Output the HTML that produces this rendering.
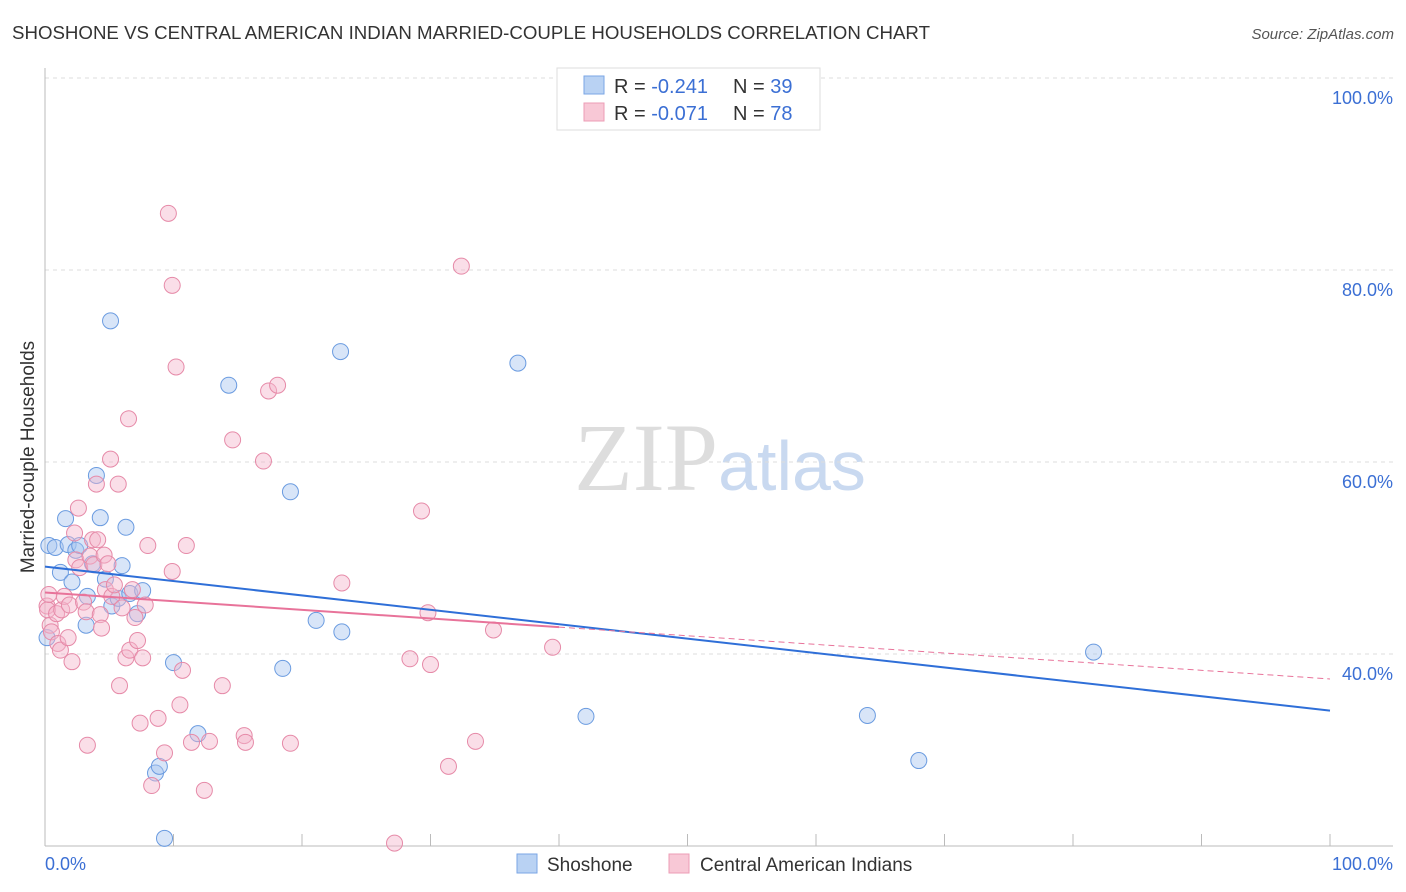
<!DOCTYPE html>
<html><head><meta charset="utf-8"><style>
body{margin:0;background:#fff;font-family:"Liberation Sans",sans-serif;}
svg{display:block}
</style></head><body>
<svg id="chart" width="1406" height="892" xmlns="http://www.w3.org/2000/svg">
<text x="12" y="39" font-size="18" fill="#333" textLength="918" lengthAdjust="spacingAndGlyphs">SHOSHONE VS CENTRAL AMERICAN INDIAN MARRIED-COUPLE HOUSEHOLDS CORRELATION CHART</text>
<text x="1394" y="39" font-size="15" fill="#555" text-anchor="end" font-style="italic">Source: ZipAtlas.com</text>
<text x="720" y="490" font-size="96" text-anchor="middle" fill="#ddd" font-family="Liberation Serif,serif">ZIP<tspan fill="#c9d9f0" font-family="Liberation Sans,sans-serif" font-size="70">atlas</tspan></text>
<g id="grid"></g>
<g id="axes"></g>
<g id="marks"></g>
<text transform="translate(34,457) rotate(-90)" font-size="19" fill="#333" text-anchor="middle">Married-couple Households</text>
<g>
<rect x="557" y="68" width="263" height="62" fill="#fff" stroke="#ddd"/>
<rect x="584" y="76" width="20" height="18" fill="#b9d2f3" stroke="#7aa6e6"/>
<text x="614" y="93" font-size="20" fill="#333">R = <tspan fill="#3b6fd4">-0.241</tspan></text>
<text x="733" y="93" font-size="20" fill="#333">N = <tspan fill="#3b6fd4">39</tspan></text>
<rect x="584" y="103" width="20" height="18" fill="#f8c8d6" stroke="#ec9db6"/>
<text x="614" y="120" font-size="20" fill="#333">R = <tspan fill="#3b6fd4">-0.071</tspan></text>
<text x="733" y="120" font-size="20" fill="#333">N = <tspan fill="#3b6fd4">78</tspan></text>
</g>
<g>
<rect x="517" y="854" width="20" height="19" fill="#b9d2f3" stroke="#7aa6e6"/>
<text x="547" y="871" font-size="19" fill="#333">Shoshone</text>
<rect x="669" y="854" width="20" height="19" fill="#f8c8d6" stroke="#ec9db6"/>
<text x="700" y="871" font-size="19" fill="#333">Central American Indians</text>
</g>
</svg>
<script>
const yTicks=[40,60,80,100];
const xTickLabels=["0.0%","100.0%"];
const blueX=[0.16,0.3,0.8,1.2,1.6,1.8,2.1,2.4,2.7,3.2,3.3,3.7,4.0,4.3,4.7,5.1,5.2,5.7,6.0,6.3,6.6,7.2,7.6,8.6,8.9,9.3,10.0,11.9,14.3,18.5,19.1,21.1,23.0,23.1,36.8,42.1,64.0,68.0,81.6];
const blueY=[41.7,51.3,51.1,48.5,54.1,51.4,47.5,50.8,51.3,43.0,46.0,49.4,58.6,54.2,47.8,74.7,45.0,45.8,49.2,53.2,46.3,44.2,46.6,27.6,28.3,20.8,39.1,31.7,68.0,38.5,56.9,43.5,71.5,42.3,70.3,33.5,33.6,28.9,40.2];
const pinkX=[0.16,0.2,0.4,0.5,0.9,1.0,1.2,1.3,1.5,1.8,1.9,2.1,2.3,2.4,2.6,2.7,3.0,3.2,3.3,3.5,3.7,3.8,4.0,4.1,4.3,4.4,4.6,4.7,4.9,5.1,5.2,5.4,5.7,5.8,6.0,6.3,6.5,6.6,6.8,7.0,7.2,7.4,7.6,7.8,8.0,8.3,8.8,9.3,9.6,9.9,9.9,10.2,10.5,10.7,11.0,11.4,12.4,12.8,13.8,14.6,15.5,15.6,17.0,17.4,18.1,19.1,23.1,27.2,28.4,29.3,29.8,30.0,31.4,32.4,33.5,34.9,39.5,0.3];
const pinkY=[45.0,44.6,43.0,42.3,44.2,41.1,40.4,44.6,46.0,41.7,45.1,39.2,52.6,49.8,55.2,49.0,45.4,44.4,30.5,50.2,51.9,49.3,57.7,51.9,44.1,42.7,50.3,46.7,49.4,60.3,46.0,47.2,57.7,36.7,44.8,39.6,64.5,40.4,46.7,43.8,41.4,32.8,39.6,45.1,51.3,26.3,33.3,29.7,85.9,78.4,48.6,69.9,34.7,38.3,51.3,30.8,25.8,30.9,36.7,62.3,31.5,30.8,60.1,67.4,68.0,30.7,47.4,20.3,39.5,54.9,44.3,38.9,28.3,80.4,30.9,42.5,40.7,46.2];
const blueLine=[49.1,34.1];
const pinkLine=[46.4,42.8,37.4];
const P={x0:45,x1:1330,yTop:78,pxPerPct:9.6};
function sx(v){return P.x0+(P.x1-P.x0)*v/100;}
function sy(v){return P.yTop+(100-v)*P.pxPerPct;}
const NS="http://www.w3.org/2000/svg";
function mk(t,a,parent){const e=document.createElementNS(NS,t);for(const k in a)e.setAttribute(k,a[k]);parent.appendChild(e);return e;}
const grid=document.getElementById('grid'),axes=document.getElementById('axes'),marks=document.getElementById('marks');
yTicks.forEach(t=>{
 const l=mk('line',{x1:45,x2:1393,y1:sy(t),y2:sy(t),stroke:'#ddd','stroke-dasharray':'4,4'},grid);
 
 
 const tx=mk('text',{x:1393,y:sy(t)+26,'font-size':18,fill:'#3b6fd4','text-anchor':'end'},axes);
 tx.textContent=t.toFixed(1)+'%';
 
 
});
const yAxis=mk('line',{x1:45,x2:45,y1:68,y2:846,stroke:'#bbb'},axes);


const xAxis=mk('line',{x1:45,x2:1393,y1:846,y2:846,stroke:'#bbb'},axes);


for(let i=0;i<=10;i++){
 const tk=mk('line',{x1:sx(i*10),x2:sx(i*10),y1:834,y2:846,stroke:'#bbb'},axes);
 
 
}
const xl0=mk('text',{x:45,y:870,'font-size':18,fill:'#3b6fd4'},axes);xl0.textContent=xTickLabels[0];


const xl1=mk('text',{x:1393,y:870,'font-size':18,fill:'#3b6fd4','text-anchor':'end'},axes);xl1.textContent=xTickLabels[1];


function pts(X,Y,fill,stroke,name){
 const n=Math.min(X.length,Y.length);
 for(let i=0;i<n;i++){
  const c=mk('circle',{cx:sx(X[i]),cy:sy(Y[i]),r:8,fill:fill,'fill-opacity':0.45,stroke:stroke,'stroke-width':1},marks);
  
  
 }
}
pts(blueX,blueY,'#a9c6f0','#6a9be0','shoshone-point');
pts(pinkX,pinkY,'#f4b6cb','#e68aa8','central-american-point');
let l1=mk('line',{x1:sx(0),y1:sy(blueLine[0]),x2:sx(100),y2:sy(blueLine[1]),stroke:'#2f6fd8','stroke-width':2},marks);


let l2=mk('line',{x1:sx(0),y1:sy(pinkLine[0]),x2:sx(40),y2:sy(pinkLine[1]),stroke:'#e8739a','stroke-width':2},marks);


let l3=mk('line',{x1:sx(40),y1:sy(pinkLine[1]),x2:sx(100),y2:sy(pinkLine[2]),stroke:'#e8739a','stroke-width':1,'stroke-dasharray':'6,4'},marks);


</script>
</body></html>
